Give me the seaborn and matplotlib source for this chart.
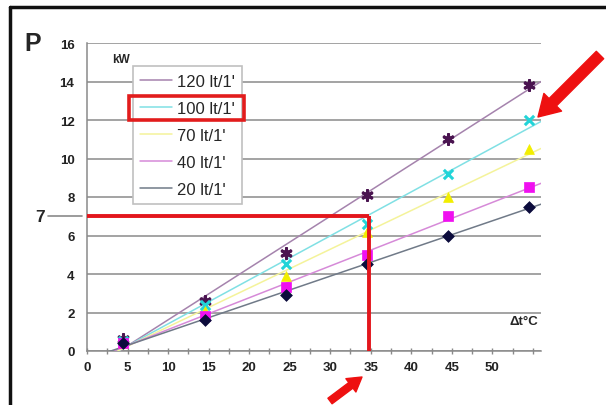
import numpy as np
import pandas as pd
import seaborn as sns
import matplotlib.pyplot as plt
from matplotlib.lines import Line2D
from matplotlib.patches import Rectangle

# values
dt = [4.5, 14.5, 24.5, 34.5, 44.5, 54.5]
flow_labels = ["120 lt/1'", "100 lt/1'", "70 lt/1'", "40 lt/1'", "20 lt/1'"]
p_120 = [0.6, 2.6, 5.1, 8.1, 11.0, 13.8]
p_100 = [0.5, 2.4, 4.5, 6.6, 9.2, 12.0]
p_70 = [0.4, 2.1, 3.9, 6.2, 8.0, 10.5]
p_40 = [0.4, 1.8, 3.3, 5.0, 7.0, 8.5]
p_20 = [0.4, 1.6, 2.9, 4.5, 6.0, 7.5]
y_ticks = [0, 2, 4, 6, 8, 10, 12, 14, 16]
x_ticks = [0, 5, 10, 15, 20, 25, 30, 35, 40, 45, 50]

marker_colors = ['#4a1450', '#22d4d8', '#f2ee00', '#f010f0', '#0c0c3c']
line_colors = ['#a583ad', '#80e0e4', '#f4f39a', '#d68ad8', '#707a88']
markers = [(6, 2, 0), 'x', '^', 's', 'D']
marker_sizes = [50, 45, 50, 50, 36]

df = pd.DataFrame({
    'dt': dt * 5,
    'P': p_120 + p_100 + p_70 + p_40 + p_20,
    'flow': np.repeat(flow_labels, len(dt)),
})

sns.set_style('white')
plt.rcParams['font.family'] = ['Liberation Sans', 'DejaVu Sans']

fig = plt.figure(figsize=(6.06, 4.06), dpi=100)
ax = fig.add_axes([87 / 606, 54 / 406, 454 / 606, 308 / 406])
ax.set_xlim(0, 56)
ax.set_ylim(0, 16)

# trend lines + markers per series
for lab, lc, mc, mk, ms in zip(flow_labels, line_colors, marker_colors, markers, marker_sizes):
    sub = df[df['flow'] == lab]
    sns.regplot(data=sub, x='dt', y='P', ax=ax, scatter=False,
                ci=None, truncate=False, color=lc, line_kws={'lw': 1.1, 'zorder': 3})
    if mk in ('x', (6, 2, 0)):
        sns.scatterplot(data=sub, x='dt', y='P', ax=ax, marker=mk, s=ms,
                        color=mc, linewidth=2.2, zorder=4, legend=False)
    else:
        sns.scatterplot(data=sub, x='dt', y='P', ax=ax, marker=mk, s=ms,
                        color=mc, edgecolor=mc, linewidth=0.5, zorder=4, legend=False)
ax.set_xlim(0, 56)
ax.set_ylim(0, 16)

ax.set_yticks(y_ticks)
ax.set_xticks(x_ticks)
ax.set_xticks(np.arange(0, 56, 2.5), minor=True)
ax.yaxis.grid(True, color='#8a8a8a', lw=1.1)
ax.set_axisbelow(True)
for s in ['top', 'right']:
    ax.spines[s].set_visible(False)
for s in ['left', 'bottom']:
    ax.spines[s].set_color('#8a8a8a')
    ax.spines[s].set_linewidth(1.1)
ax.tick_params(axis='y', length=5, width=1, color='#8a8a8a', labelsize=9.5, pad=4)
ax.tick_params(axis='x', which='both', direction='inout', length=5, width=1,
               color='#8a8a8a', labelsize=9.5, pad=5, bottom=True)
for t in ax.get_xticklabels() + ax.get_yticklabels():
    t.set_fontweight('bold')
    t.set_color('#222222')
ax.set_xlabel('')
ax.set_ylabel('')

# legend (lines only)
handles = [Line2D([0], [0], color=c, lw=1.1) for c in line_colors]
leg = ax.legend(handles, flow_labels, loc='upper left', bbox_to_anchor=(0.101, 0.925),
                fancybox=False, edgecolor='#c0c0c0', fontsize=12, handlelength=1.9,
                labelspacing=0.72, borderpad=0.45, borderaxespad=0, handletextpad=0.3,
                framealpha=1)
leg.get_frame().set_linewidth(1.2)

# highlight around 100 lt/1'
fig.add_artist(Rectangle((129 / 606, 1 - 121 / 406), 115 / 606, 24 / 406,
                         transform=fig.transFigure, fill=False, ec='#e21c1c', lw=2.6))

# red read-off lines
red = '#e3161c'
ax.plot([0, 34.8], [7, 7], color=red, lw=2.8, clip_on=False, zorder=6, solid_capstyle='butt')
ax.plot([34.8, 34.8], [0, 7], color=red, lw=2.8, clip_on=False, zorder=6, solid_capstyle='butt')
ax.plot([-0.086, -0.011], [7, 7], color='#8a8a8a', lw=1.2,
        transform=ax.get_yaxis_transform(), clip_on=False)

fig.text(40 / 606, 1 - 218 / 406, '7', fontsize=12.5, fontweight='bold', ha='center', va='center')
fig.text(33 / 606, 1 - 44 / 406, 'P', fontsize=18, fontweight='bold', ha='center', va='center')
fig.text(121 / 606, 1 - 60 / 406, 'kW', fontsize=8.5, fontweight='bold', ha='center', va='center')
fig.text(524 / 606, 1 - 322 / 406, 'Δt°C', fontsize=9.5, fontweight='bold', ha='center', va='center')

# arrows
arrow_style = 'simple,head_length=1.0,head_width=1.2,tail_width=0.5'
ax.annotate('', xy=(538, 406 - 118), xycoords='figure pixels',
            xytext=(600, 406 - 56), textcoords='figure pixels',
            arrowprops=dict(arrowstyle=arrow_style, color='#ee1010', mutation_scale=15,
                            shrinkA=0, shrinkB=0))
ax.annotate('', xy=(362, 406 - 378), xycoords='figure pixels',
            xytext=(330, 406 - 402), textcoords='figure pixels',
            arrowprops=dict(arrowstyle=arrow_style, color='#ee1010', mutation_scale=10,
                            shrinkA=0, shrinkB=0))

# outer frame
fig.add_artist(Line2D([10 / 606, 1], [1 - 8 / 406, 1 - 8 / 406], color='#111111', lw=2.5))
fig.add_artist(Line2D([10 / 606, 10 / 606], [0, 1 - 8 / 406], color='#111111', lw=2.5))

fig.savefig('out.png', dpi=100)
